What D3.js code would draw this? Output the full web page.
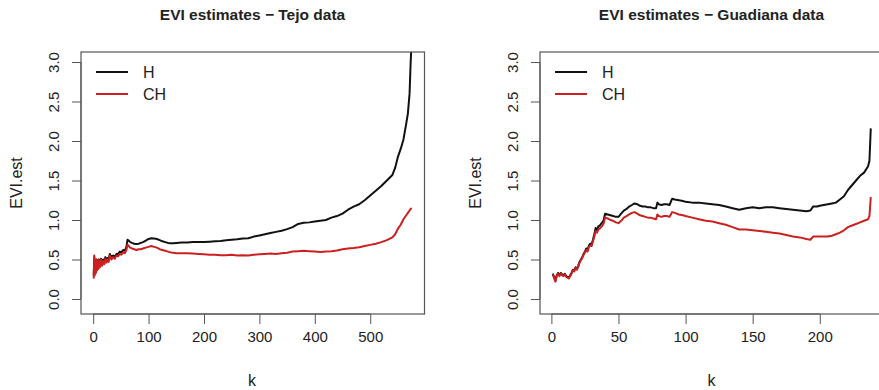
<!DOCTYPE html>
<html>
<head>
<meta charset="utf-8">
<script src="https://cdn.jsdelivr.net/npm/d3@7"></script>
<style>
  body { margin: 0; background: #fff; }
  svg { display: block; font-family: "Liberation Sans", Arial, sans-serif; }
</style>
</head>
<body>
<div id="chart"></div>
<script>
// Tejo data (left panel)
const kTejo = [1,2,3,4,5,6,7,8,9,10,12,14,16,18,20,22,24,26,28,30,33,36,39,42,45,48,51,54,57,60,62,64,67,70,74,78,82,86,90,95,100,105,110,115,120,125,130,135,140,145,150,160,170,180,190,200,210,220,230,240,250,260,270,280,290,300,310,320,330,340,350,360,370,380,390,400,410,420,430,440,450,460,470,480,490,500,510,520,530,540,545,550,555,560,565,568,571,573,575];
const hTejo = [0.30,0.53,0.33,0.44,0.36,0.50,0.39,0.48,0.41,0.50,0.43,0.51,0.45,0.50,0.47,0.53,0.48,0.52,0.50,0.57,0.53,0.55,0.53,0.57,0.57,0.60,0.59,0.62,0.61,0.66,0.75,0.74,0.72,0.71,0.70,0.695,0.70,0.71,0.72,0.74,0.76,0.77,0.765,0.76,0.745,0.73,0.72,0.71,0.705,0.705,0.71,0.715,0.715,0.72,0.72,0.72,0.725,0.73,0.735,0.745,0.75,0.755,0.765,0.77,0.79,0.805,0.82,0.835,0.85,0.865,0.885,0.91,0.95,0.965,0.97,0.98,0.99,1.00,1.03,1.05,1.08,1.13,1.17,1.20,1.25,1.31,1.37,1.43,1.50,1.57,1.66,1.80,1.90,2.02,2.22,2.35,2.60,3.0,3.3];
const chTejo = [0.26,0.55,0.30,0.42,0.33,0.50,0.36,0.47,0.38,0.49,0.40,0.50,0.42,0.48,0.44,0.51,0.46,0.50,0.47,0.55,0.50,0.53,0.51,0.55,0.54,0.57,0.56,0.59,0.58,0.62,0.69,0.67,0.65,0.64,0.63,0.62,0.63,0.63,0.64,0.65,0.66,0.67,0.66,0.65,0.63,0.62,0.61,0.60,0.59,0.585,0.58,0.58,0.58,0.575,0.57,0.565,0.56,0.56,0.555,0.555,0.56,0.55,0.555,0.55,0.56,0.565,0.57,0.575,0.57,0.58,0.585,0.60,0.605,0.61,0.605,0.60,0.595,0.60,0.605,0.615,0.63,0.64,0.645,0.655,0.67,0.685,0.70,0.72,0.745,0.78,0.82,0.89,0.94,1.01,1.06,1.09,1.12,1.14,1.15];
const xTicksTejo = [0,100,200,300,400,500];

// Guadiana data (right panel)
const kGuad = [1,2,3,4,5,6,7,8,9,10,11,12,13,14,15,16,17,18,19,20,21,22,23,24,25,26,27,28,29,30,31,32,33,34,35,36,37,38,39,40,42,44,46,48,50,52,54,56,58,60,62,64,66,68,70,72,74,76,78,79,80,82,84,86,88,89,90,92,95,98,100,105,110,115,120,125,130,135,140,145,150,155,160,165,170,175,180,185,190,193,195,198,200,203,206,209,212,215,218,221,224,227,230,233,236,237,238];
const hGuad = [0.32,0.28,0.23,0.30,0.33,0.30,0.33,0.31,0.30,0.32,0.29,0.28,0.27,0.30,0.33,0.37,0.36,0.40,0.38,0.42,0.47,0.50,0.53,0.57,0.60,0.64,0.62,0.68,0.70,0.69,0.75,0.82,0.90,0.87,0.92,0.93,0.95,0.97,1.00,1.08,1.07,1.06,1.05,1.04,1.04,1.08,1.12,1.14,1.17,1.19,1.21,1.20,1.18,1.17,1.17,1.16,1.16,1.15,1.15,1.22,1.20,1.19,1.20,1.20,1.19,1.23,1.27,1.26,1.25,1.24,1.23,1.22,1.22,1.21,1.20,1.19,1.17,1.15,1.13,1.15,1.16,1.15,1.16,1.16,1.15,1.14,1.13,1.12,1.11,1.12,1.17,1.17,1.18,1.19,1.20,1.21,1.22,1.26,1.30,1.38,1.44,1.50,1.56,1.60,1.68,1.75,2.16];
const chGuad = [0.31,0.27,0.22,0.29,0.32,0.29,0.32,0.30,0.29,0.31,0.28,0.27,0.26,0.29,0.32,0.36,0.35,0.39,0.37,0.41,0.46,0.49,0.52,0.56,0.59,0.62,0.60,0.66,0.68,0.67,0.73,0.79,0.86,0.84,0.88,0.89,0.91,0.93,0.96,1.03,1.02,1.00,0.99,0.97,0.96,0.99,1.03,1.05,1.07,1.09,1.10,1.08,1.06,1.05,1.04,1.03,1.03,1.02,1.01,1.07,1.05,1.04,1.05,1.05,1.04,1.07,1.10,1.09,1.07,1.06,1.05,1.03,1.01,0.99,0.98,0.96,0.94,0.91,0.88,0.88,0.87,0.86,0.85,0.84,0.83,0.81,0.79,0.78,0.76,0.75,0.79,0.79,0.79,0.79,0.79,0.80,0.82,0.84,0.87,0.91,0.93,0.95,0.97,0.99,1.01,1.05,1.29];
const xTicksGuad = [0,50,100,150,200];

const yTicks = [0, 0.5, 1, 1.5, 2, 2.5, 3];
const seriesNames = ["H", "CH"];
const seriesColors = ["#111111", "#cc2020"];

const W = 879, H = 390;
const svg = d3.select("#chart").append("svg")
    .attr("width", W)
    .attr("height", H);

svg.append("rect").attr("width", W).attr("height", H).attr("fill", "#fff");

function drawPanel(cfg) {
    // R-style 4% extension of the k range
    let kmin = d3.min(cfg.k), kmax = d3.max(cfg.k);
    let pad = (kmax - kmin) * 0.04;
    let x = d3.scaleLinear().domain([kmin - pad, kmax + pad]).range([cfg.left, cfg.left + 343.5]);
    let y = d3.scaleLinear().domain([-0.19, 3.127]).range([314, 52]);

    let g = svg.append("g");

    // title
    g.append("text")
        .attr("x", cfg.left + 171.5)
        .attr("y", 20)
        .attr("text-anchor", "middle")
        .attr("font-size", "15.5px")
        .attr("font-weight", "bold")
        .attr("fill", "#222")
        .text(cfg.title);

    let clipId = "clip-" + cfg.id;
    g.append("clipPath").attr("id", clipId)
        .append("rect")
        .attr("x", x.range()[0]).attr("y", 52)
        .attr("width", x.range()[1] - x.range()[0]).attr("height", 314 - 52);

    // lines
    let line = d3.line().x(d => x(d[0])).y(d => y(d[1]));
    [cfg.h, cfg.ch].forEach((vals, i) => {
        g.append("path")
            .datum(cfg.k.map((k, j) => [k, vals[j]]))
            .attr("clip-path", "url(#" + clipId + ")")
            .attr("fill", "none")
            .attr("stroke", seriesColors[i])
            .attr("stroke-width", 2)
            .attr("stroke-linejoin", "round")
            .attr("d", line);
    });

    // box
    g.append("rect")
        .attr("x", x.range()[0]).attr("y", 52)
        .attr("width", x.range()[1] - x.range()[0]).attr("height", 314 - 52)
        .attr("fill", "none")
        .attr("stroke", "#555")
        .attr("stroke-width", 1.2);

    // x axis
    let xAxis = d3.axisBottom(x).tickValues(cfg.xTicks).tickSize(10).tickPadding(7).tickFormat(d3.format("d"));
    let xa = g.append("g").attr("transform", "translate(0,314)").call(xAxis);
    xa.select(".domain").attr("stroke", "#555").attr("d", "M" + x(cfg.xTicks[0]) + ",0H" + x(cfg.xTicks[cfg.xTicks.length - 1]));
    xa.selectAll(".tick line").attr("stroke", "#555");
    xa.selectAll(".tick text").attr("font-size", "15px").attr("fill", "#222").attr("font-family", null);
    xa.attr("font-family", null);

    // y axis
    let yAxis = d3.axisLeft(y).tickValues(yTicks).tickSize(9).tickFormat(d3.format(".1f"));
    let ya = g.append("g").attr("transform", "translate(" + x.range()[0] + ",0)").call(yAxis);
    ya.attr("font-family", null);
    ya.select(".domain").attr("stroke", "#555").attr("d", "M0," + y(0) + "V" + y(3));
    ya.selectAll(".tick line").attr("stroke", "#555");
    ya.selectAll(".tick text")
        .attr("font-size", "15px")
        .attr("fill", "#222")
        .attr("x", null).attr("dy", null)
        .attr("text-anchor", "middle")
        .attr("transform", "translate(-22,0) rotate(-90)");

    // axis titles
    g.append("text")
        .attr("x", cfg.left + 171.5 + (cfg.id === "tejo" ? -0.5 : 0))
        .attr("y", 386)
        .attr("text-anchor", "middle")
        .attr("font-size", "16px")
        .attr("fill", "#222")
        .text("k");

    g.append("text")
        .attr("transform", "translate(" + (cfg.left - 59) + ",183) rotate(-90)")
        .attr("text-anchor", "middle")
        .attr("font-size", "16px")
        .attr("fill", "#222")
        .text("EVI.est");

    // legend
    seriesNames.forEach((name, i) => {
        let ly = 72 + i * 22;
        g.append("line")
            .attr("x1", cfg.left + 15).attr("x2", cfg.left + 47)
            .attr("y1", ly).attr("y2", ly)
            .attr("stroke", seriesColors[i])
            .attr("stroke-width", 2);
        g.append("text")
            .attr("x", cfg.left + 62)
            .attr("y", ly + 6)
            .attr("font-size", "16px")
            .attr("fill", "#222")
            .text(name);
    });
}

drawPanel({id: "tejo", title: "EVI estimates \u2212 Tejo data", left: 81, k: kTejo, h: hTejo, ch: chTejo, xTicks: xTicksTejo});
drawPanel({id: "guad", title: "EVI estimates \u2212 Guadiana data", left: 540, k: kGuad, h: hGuad, ch: chGuad, xTicks: xTicksGuad});
</script>
</body>
</html>
